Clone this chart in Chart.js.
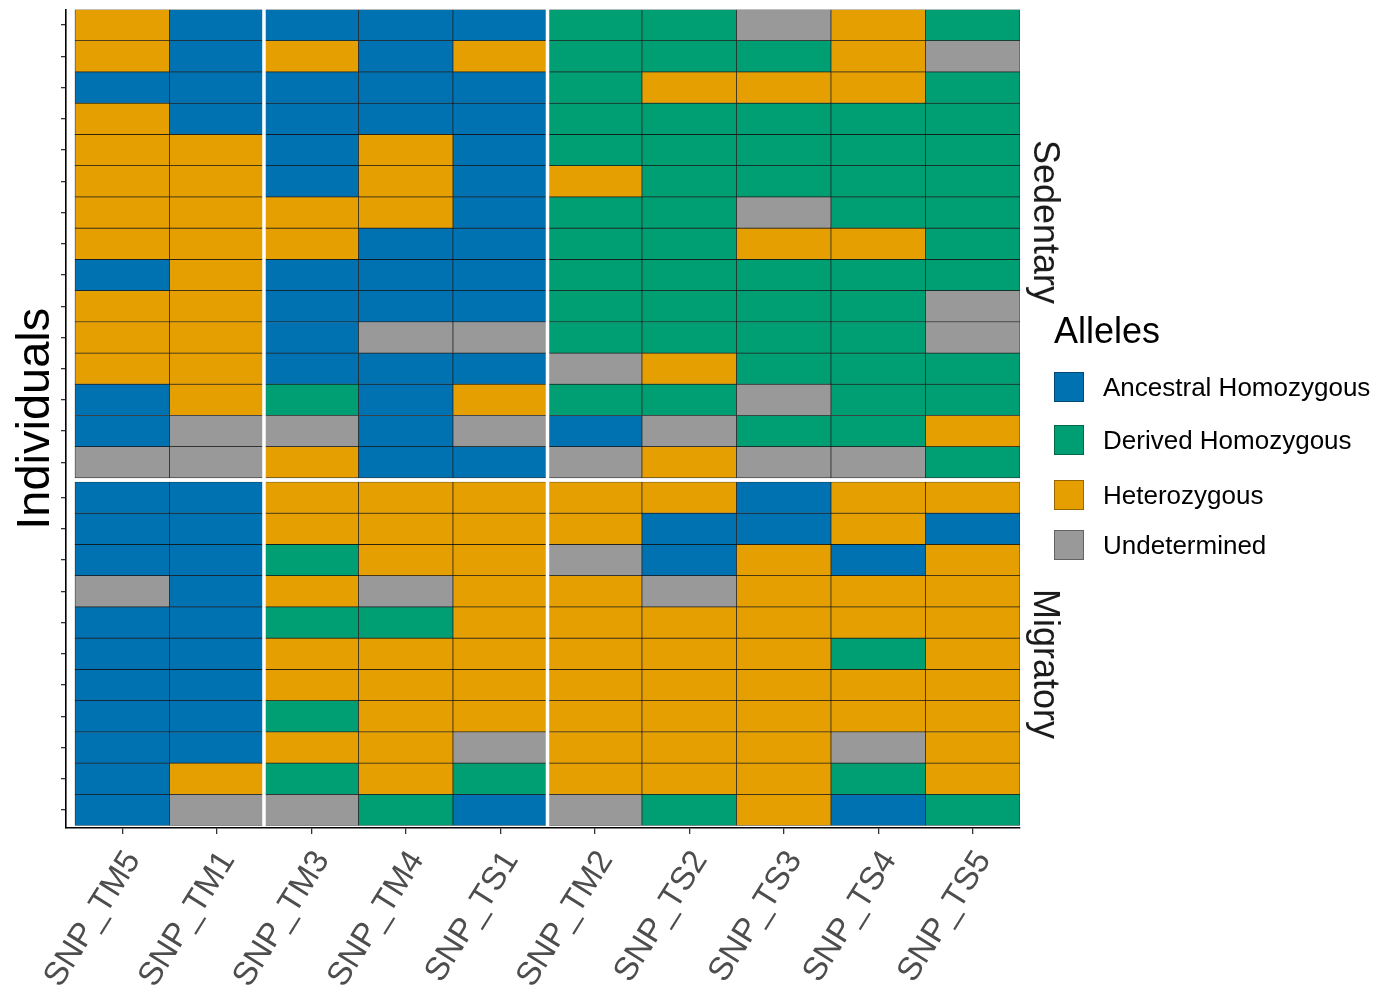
<!DOCTYPE html>
<html>
<head>
<meta charset="utf-8">
<script src="https://cdn.jsdelivr.net/npm/chart.js@4.4.1/dist/chart.umd.min.js"></script>
<style>
  html, body { margin: 0; padding: 0; background: #ffffff; }
  #wrap { position: relative; width: 1392px; height: 990px; font-family: 'Liberation Sans', Arial, Helvetica, sans-serif; }
  #chart { position: absolute; left: 0; top: 0; }
  .strip { position: absolute; font-size: 36px; color: #1a1a1a; white-space: nowrap; line-height: 1; transform: translate(-50%, -50%) rotate(90deg); }
  .legend-title { position: absolute; font-size: 36px; color: #000; line-height: 1; white-space: nowrap; }
  .legend-item { position: absolute; display: flex; align-items: center; white-space: nowrap; }
  .legend-swatch { width: 30px; height: 30px; box-sizing: border-box; border: 1px solid rgba(0,0,0,0.35); }
  .legend-label { font-size: 26px; color: #000; margin-left: 19px; line-height: 1; }
</style>
</head>
<body>
<div id="wrap">
  <canvas id="chart" width="1392" height="990"></canvas>
</div>
<script>
// ---- data ----
const snps = ['SNP_TM5', 'SNP_TM1', 'SNP_TM3', 'SNP_TM4', 'SNP_TS1', 'SNP_TM2', 'SNP_TS2', 'SNP_TS3', 'SNP_TS4', 'SNP_TS5'];
const snpGroupSizes = [2, 3, 5];
const panels = ['Sedentary', 'Migratory'];
const alleleCodes = ['A', 'D', 'H', 'U'];
const alleleNames = ['Ancestral Homozygous', 'Derived Homozygous', 'Heterozygous', 'Undetermined'];
const alleleColors = ['#0072B2', '#009E73', '#E69F00', '#999999'];

// A = ancestral homozygous, D = derived homozygous, H = heterozygous, U = undetermined
// rows listed top to bottom
const sedentary = [
  ['H','A','A','A','A','D','D','U','H','D'],
  ['H','A','H','A','H','D','D','D','H','U'],
  ['A','A','A','A','A','D','H','H','H','D'],
  ['H','A','A','A','A','D','D','D','D','D'],
  ['H','H','A','H','A','D','D','D','D','D'],
  ['H','H','A','H','A','H','D','D','D','D'],
  ['H','H','H','H','A','D','D','U','D','D'],
  ['H','H','H','A','A','D','D','H','H','D'],
  ['A','H','A','A','A','D','D','D','D','D'],
  ['H','H','A','A','A','D','D','D','D','U'],
  ['H','H','A','U','U','D','D','D','D','U'],
  ['H','H','A','A','A','U','H','D','D','D'],
  ['A','H','D','A','H','D','D','U','D','D'],
  ['A','U','U','A','U','A','U','D','D','H'],
  ['U','U','H','A','A','U','H','U','U','D']
];
const migratory = [
  ['A','A','H','H','H','H','H','A','H','H'],
  ['A','A','H','H','H','H','A','A','H','A'],
  ['A','A','D','H','H','U','A','H','A','H'],
  ['U','A','H','U','H','H','U','H','H','H'],
  ['A','A','D','D','H','H','H','H','H','H'],
  ['A','A','H','H','H','H','H','H','D','H'],
  ['A','A','H','H','H','H','H','H','H','H'],
  ['A','A','D','H','H','H','H','H','H','H'],
  ['A','A','H','H','U','H','H','H','U','H'],
  ['A','H','D','H','D','H','H','H','D','H'],
  ['A','U','U','D','A','U','D','H','A','D']
];

// ---- build rows (each row is one dataset of floating bars) ----
const PANEL_GAP = 0.13;
const yTop = migratory.length + PANEL_GAP + sedentary.length;
const colorOf = code => alleleColors[alleleCodes.indexOf(code)];

const rows = [];
sedentary.forEach((r, i) => rows.push({ codes: r, hi: yTop - i }));
migratory.forEach((r, i) => rows.push({ codes: r, hi: migratory.length - i }));

const datasets = rows.map((row, k) => ({
  label: 'row' + (k + 1),
  data: snps.map((s, j) => ({ x: j + 0.5, y: [row.hi - 1, row.hi] })),
  backgroundColor: row.codes.map(colorOf)
}));
const rowCenters = rows.map(r => r.hi - 0.5);

// group separators (column boundaries between SNP groups)
const groupBreaks = [];
snpGroupSizes.reduce((acc, n) => { acc += n; if (acc < snps.length) groupBreaks.push(acc); return acc; }, 0);

const separatorPlugin = {
  id: 'separators',
  afterDatasetsDraw(chart) {
    const { ctx, scales: { x, y } } = chart;
    const top = y.getPixelForValue(yTop);
    const bottom = y.getPixelForValue(0);
    ctx.save();
    ctx.fillStyle = '#ffffff';
    groupBreaks.forEach(b => {
      const px = x.getPixelForValue(b);
      ctx.fillRect(px - 1.75, top - 1, 3.5, bottom - top + 2);
    });
    ctx.restore();
  }
};

const FONT = "'Liberation Sans', Arial, Helvetica, sans-serif";

new Chart(document.getElementById('chart'), {
  type: 'bar',
  data: { datasets },
  options: {
    responsive: false,
    animation: false,
    devicePixelRatio: 1,
    layout: { padding: { left: 0, top: 9.5, right: 372, bottom: 0 } },
    plugins: { legend: { display: false }, tooltip: { enabled: false } },
    datasets: {
      bar: {
        grouped: false,
        barPercentage: 1,
        categoryPercentage: 1,
        borderSkipped: false,
        borderWidth: 0.7,
        borderColor: 'rgba(0,0,0,0.85)'
      }
    },
    scales: {
      x: {
        type: 'linear',
        min: -0.095,
        max: snps.length,
        offset: false,
        afterBuildTicks: s => { s.ticks = snps.map((n, j) => ({ value: j + 0.5 })); },
        afterFit: s => { s.height = 162; },
        ticks: {
          autoSkip: false,
          minRotation: 58,
          maxRotation: 58,
          padding: 10,
          labelOffset: 11,
          color: '#4d4d4d',
          font: { family: FONT, size: 33 },
          callback: (v, i) => snps[i]
        },
        grid: { display: true, offset: false, drawOnChartArea: false, drawTicks: true, tickLength: 6, color: '#333333', lineWidth: 1.3 },
        border: { display: true, color: '#000000', width: 1.6 }
      },
      y: {
        type: 'linear',
        min: -0.08,
        max: yTop,
        offset: false,
        afterBuildTicks: s => { s.ticks = rowCenters.map(v => ({ value: v })); },
        afterFit: s => { s.width = 66; },
        ticks: { autoSkip: false, callback: () => '', padding: 0 },
        grid: { display: true, offset: false, drawOnChartArea: false, drawTicks: true, tickLength: 5, color: '#333333', lineWidth: 1.3 },
        border: { display: true, color: '#000000', width: 1.6 },
        title: {
          display: true,
          text: 'Individuals',
          color: '#000000',
          font: { family: FONT, size: 47 },
          padding: { top: 8, bottom: 0 }
        }
      }
    }
  },
  plugins: [separatorPlugin]
});

// ---- facet strip labels and legend (HTML text) ----
const wrap = document.getElementById('wrap');
const stripCenters = [222, 664];
panels.forEach((p, i) => {
  const d = document.createElement('div');
  d.className = 'strip';
  d.textContent = p;
  d.style.left = '1046px';
  d.style.top = stripCenters[i] + 'px';
  wrap.appendChild(d);
});

const lt = document.createElement('div');
lt.className = 'legend-title';
lt.textContent = 'Alleles';
lt.style.left = '1054px';
lt.style.top = '313px';
wrap.appendChild(lt);

const swatchTops = [372, 425, 480, 530];
alleleNames.forEach((name, i) => {
  const it = document.createElement('div');
  it.className = 'legend-item';
  it.style.left = '1054px';
  it.style.top = swatchTops[i] + 'px';
  const sw = document.createElement('div');
  sw.className = 'legend-swatch';
  sw.style.background = alleleColors[i];
  const lb = document.createElement('div');
  lb.className = 'legend-label';
  lb.textContent = name;
  it.appendChild(sw);
  it.appendChild(lb);
  wrap.appendChild(it);
});
</script>
</body>
</html>
